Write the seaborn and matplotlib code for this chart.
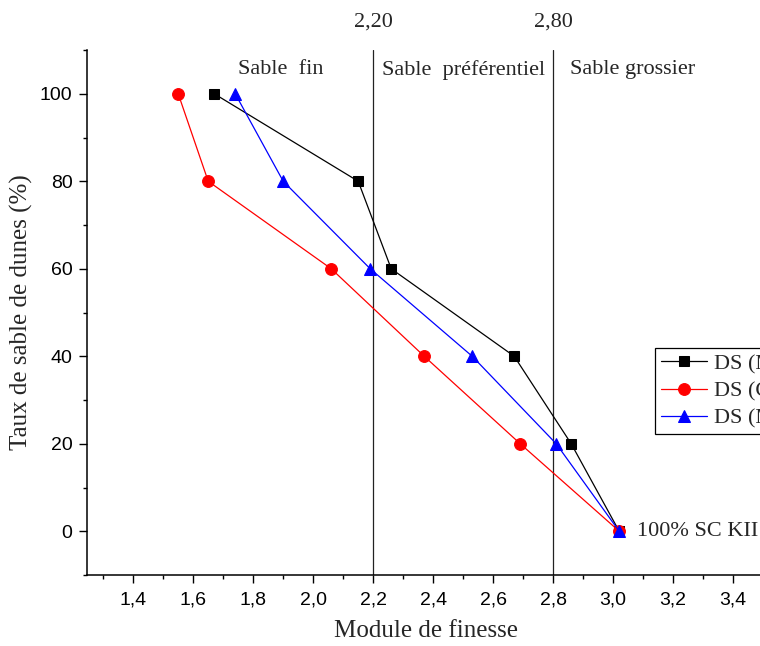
import matplotlib
matplotlib.use("Agg")
import matplotlib.pyplot as plt
import matplotlib.ticker as mticker
import matplotlib.transforms as mtrans
import seaborn as sns
import pandas as pd

# ---- data ----
taux = [100, 80, 60, 40, 20, 0]
mf_ds_m1 = [1.67, 2.15, 2.26, 2.67, 2.86, 3.02]
mf_ds_c = [1.55, 1.65, 2.06, 2.37, 2.69, 3.02]
mf_ds_m2 = [1.74, 1.90, 2.19, 2.53, 2.81, 3.02]
series_names = ["DS (Mostaganem)", "DS (Chlef)", "DS (Mila)"]
limits = [2.20, 2.80]
limit_labels = ["2,20", "2,80"]
zone_labels = ["Sable  fin", "Sable  préférentiel", "Sable grossier"]

sns.set_style("ticks")
plt.rcParams["font.family"] = ["Liberation Serif", "DejaVu Serif"]

fig = plt.figure(figsize=(7.6, 6.46), dpi=100)
ax = fig.add_axes([87 / 760, 71 / 646, 678 / 760, 525 / 646])

styles = [("black", "s", 7), ("red", "o", 8.5), ("blue", "^", 9)]
for xs, name, (c, m, ms) in zip([mf_ds_m1, mf_ds_c, mf_ds_m2], series_names, styles):
    df = pd.DataFrame({"x": xs, "y": taux})
    sns.lineplot(data=df, x="x", y="y", sort=False, ax=ax, color=c, marker=m,
                 markersize=ms, markeredgecolor=c, markerfacecolor=c,
                 linewidth=0.9, label=name, estimator=None)

for v in limits:
    ax.axvline(v, color="#222222", linewidth=0.9, zorder=0)

ax.set_xlim(1.246, 3.506)
ax.set_ylim(-10, 110)
ax.xaxis.set_major_locator(mticker.MultipleLocator(0.2))
ax.xaxis.set_minor_locator(mticker.MultipleLocator(0.1))
ax.yaxis.set_major_locator(mticker.MultipleLocator(20))
ax.yaxis.set_minor_locator(mticker.MultipleLocator(10))
ax.xaxis.set_major_formatter(mticker.FuncFormatter(lambda v, p: f"{v:.1f}".replace(".", ",")))
ax.yaxis.set_major_formatter(mticker.FuncFormatter(lambda v, p: f"{v:.0f}"))

for s in ["top", "right"]:
    ax.spines[s].set_visible(False)
for s in ["left", "bottom"]:
    ax.spines[s].set_linewidth(1.1)
    ax.spines[s].set_color("black")

ax.tick_params(which="major", direction="out", length=6, width=1.0,
               labelsize=14, colors="black")
ax.tick_params(axis="x", which="major", pad=6)
ax.tick_params(axis="y", which="major", pad=4.5)
ax.tick_params(which="minor", direction="out", length=3, width=1.0, colors="black")
for lab in ax.get_xticklabels() + ax.get_yticklabels():
    lab.set_fontfamily(["Liberation Sans", "DejaVu Sans"])

ax.set_xlabel("Module de finesse", fontsize=18, labelpad=8)
ax.set_ylabel("Taux de sable de dunes (%)", fontsize=18, labelpad=5)

trans = mtrans.blended_transform_factory(ax.transData, ax.transAxes)
for v, t in zip(limits, limit_labels):
    ax.text(v, 1.053, t, transform=trans, ha="center", va="center", fontsize=16)

ax.text(1.891, 0.962, zone_labels[0], transform=trans, ha="center", va="center", fontsize=16)
ax.text(2.229, 0.962, zone_labels[1], transform=trans, ha="left", va="center", fontsize=16)
ax.text(2.855, 0.962, zone_labels[2], transform=trans, ha="left", va="center", fontsize=16)

ax.text(3.079, 0, "100% SC KII", ha="left", va="center", fontsize=16)

leg = ax.legend(loc="upper left", bbox_to_anchor=(655 / 760, 1 - 348 / 646),
                bbox_transform=fig.transFigure, fontsize=16, frameon=True,
                fancybox=False, edgecolor="black", framealpha=1,
                borderpad=0.25, labelspacing=0.3, handlelength=2.1,
                handletextpad=0.3, borderaxespad=0)
leg.get_frame().set_linewidth(0.9)

fig.savefig("out.png", dpi=100)
